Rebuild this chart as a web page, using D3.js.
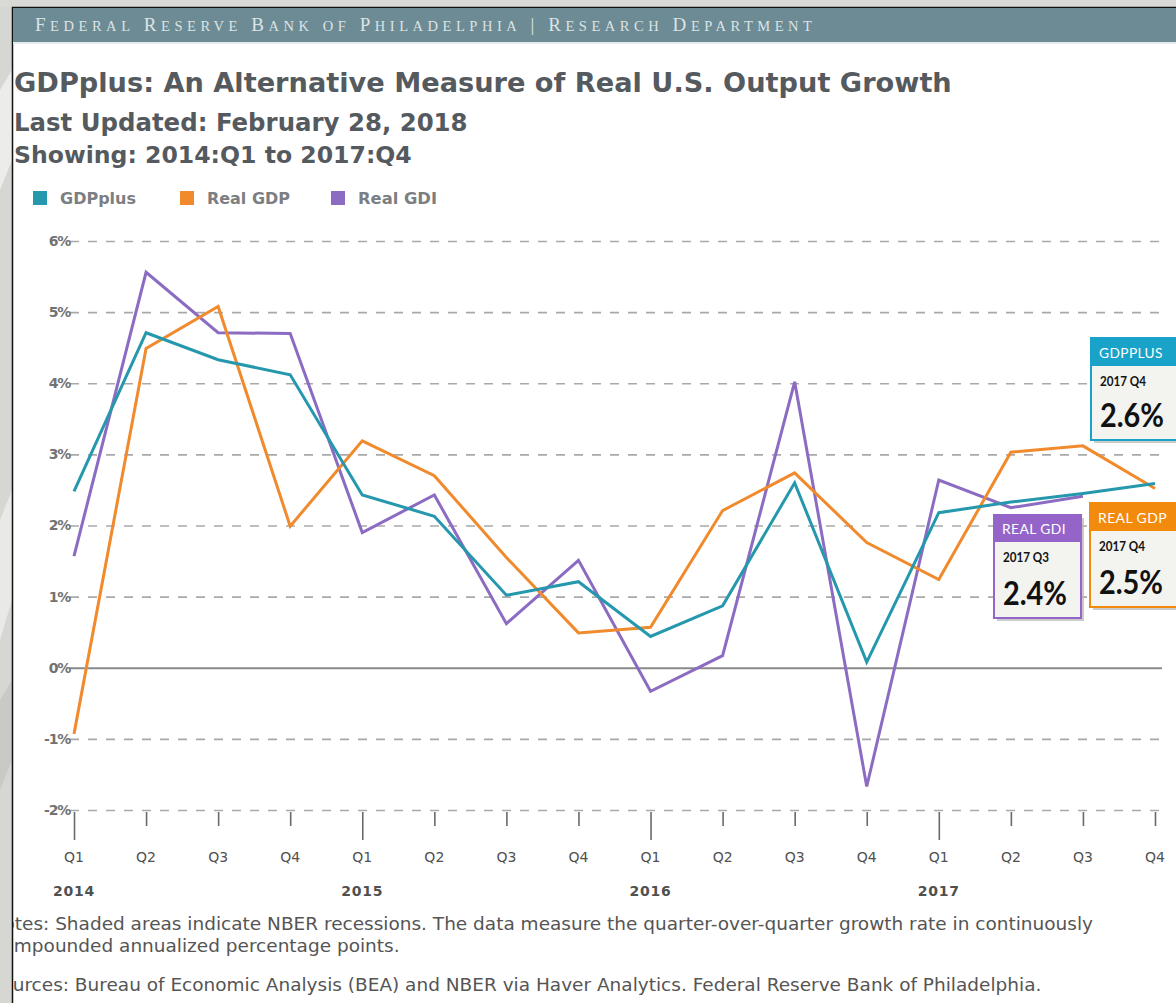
<!DOCTYPE html>
<html>
<head>
<meta charset="utf-8">
<script src="https://cdnjs.cloudflare.com/ajax/libs/d3/7.8.5/d3.min.js"></script>
<style>
  body { margin: 0; background: #fff; }
  svg { display: block; }
</style>
</head>
<body>
<script>
// values, quarterly growth, annualized %
const quarters = ["Q1", "Q2", "Q3", "Q4"]
const years = ["2014", "2015", "2016", "2017"]
const gdpplus = [2.48, 4.71, 4.33, 4.12, 2.43, 2.13, 1.02, 1.21, 0.44, 0.87, 2.60, 0.08, 2.18, 2.33, 2.45, 2.59]
const realGDP = [-0.93, 4.49, 5.08, 1.99, 3.19, 2.70, 1.55, 0.49, 0.57, 2.21, 2.74, 1.76, 1.24, 3.03, 3.12, 2.52]
const realGDI = [1.57, 5.56, 4.71, 4.70, 1.90, 2.43, 0.62, 1.51, -0.33, 0.17, 4.02, -1.67, 2.64, 2.25, 2.41, null]
const yTicks = [-2, -1, 0, 1, 2, 3, 4, 5, 6]
const seriesNames = ["GDPplus", "Real GDP", "Real GDI"]

const colors = {gdpplus: "#2598ad", gdp: "#f08a2c", gdi: "#8b6cc2"}

const W = 1176, H = 1003

const svg = d3.select("body").append("svg")
    .attr("width", W)
    .attr("height", H)

// scale text so it covers a given width
function fit(sel, w) {
    const l = sel.node().getComputedTextLength()
    sel.attr("font-size", parseFloat(sel.attr("font-size")) * w / l)
    return sel
}

// grey frame on the left and top
svg.append("rect").attr("width", W).attr("height", H).attr("fill", "#fff")
svg.append("rect").attr("x", 0).attr("y", 0).attr("width", 12).attr("height", H).attr("fill", "#d6d6d3")
svg.append("rect").attr("x", 0).attr("y", 0).attr("width", W).attr("height", 7).attr("fill", "#d9d9d6")
svg.append("path").attr("d", "M0,90 L12,70 L12,160 L0,190 Z").attr("fill", "#ececea")
svg.append("path").attr("d", "M0,520 L12,490 L12,600 L0,640 Z").attr("fill", "#e9e9e7")
svg.append("path").attr("d", "M0,700 L12,680 L12,760 L0,790 Z").attr("fill", "#c9c9c6")
svg.append("line").attr("x1", 12.5).attr("x2", 12.5).attr("y1", 7).attr("y2", H)
    .attr("stroke", "#111").attr("stroke-width", 1.5)
svg.append("line").attr("x1", 12).attr("x2", W).attr("y1", 7.5).attr("y2", 7.5)
    .attr("stroke", "#111").attr("stroke-width", 1.5)

// header bar, small caps built from tspans
svg.append("rect").attr("x", 13).attr("y", 8).attr("width", W - 13).attr("height", 34).attr("fill", "#6d8b94")
svg.append("rect").attr("x", 13).attr("y", 42).attr("width", W - 13).attr("height", 2).attr("fill", "#e6ecee")
const headText = "Federal Reserve Bank of Philadelphia | Research Department"
const runs = []
headText.split("").forEach(function(c) {
    const small = c !== c.toUpperCase()
    if (runs.length && runs[runs.length - 1].small === small) runs[runs.length - 1].t += c
    else runs.push({t: c, small: small})
})
const head = svg.append("text")
    .attr("x", 35).attr("y", 31)
    .attr("font-family", "Liberation Serif")
    .attr("font-size", 19)
    .attr("fill", "#dce3e5")
head.selectAll("tspan")
    .data(runs).enter()
    .append("tspan")
    .attr("font-size", function(d) { return d.small ? 14.5 : 19 })
    .text(function(d) { return d.t.toUpperCase() })
{
    const l = head.node().getComputedTextLength()
    head.attr("letter-spacing", Math.max(0, (777 - l) / (headText.length - 1)))
}

// titles
fit(svg.append("text").attr("x", 14).attr("y", 92)
    .attr("font-family", "DejaVu Sans").attr("font-weight", "bold")
    .attr("font-size", 25).attr("fill", "#555a5e")
    .text("GDPplus: An Alternative Measure of Real U.S. Output Growth"), 938)
fit(svg.append("text").attr("x", 14).attr("y", 131)
    .attr("font-family", "DejaVu Sans").attr("font-weight", "bold")
    .attr("font-size", 21).attr("fill", "#555a5e")
    .text("Last Updated: February 28, 2018"), 454)
fit(svg.append("text").attr("x", 14).attr("y", 163)
    .attr("font-family", "DejaVu Sans").attr("font-weight", "bold")
    .attr("font-size", 20).attr("fill", "#555a5e")
    .text("Showing: 2014:Q1 to 2017:Q4"), 398)

// legend
const legendX = [33, 180, 331]
const legendW = [76, 83, 79]
const legendC = [colors.gdpplus, colors.gdp, colors.gdi]
seriesNames.forEach(function(name, i) {
    svg.append("rect").attr("x", legendX[i]).attr("y", 191).attr("width", 14).attr("height", 14)
        .attr("fill", legendC[i])
    fit(svg.append("text").attr("x", legendX[i] + 27).attr("y", 204)
        .attr("font-family", "DejaVu Sans").attr("font-weight", "bold")
        .attr("font-size", 15).attr("fill", "#7b7e82")
        .text(name), legendW[i])
})

// scales
const x = d3.scaleLinear().domain([0, 15]).range([74, 1155])
const y = d3.scaleLinear().domain([-2, 6]).range([810, 241])

// y grid and labels
const yAxis = d3.axisLeft(y)
    .tickValues(yTicks)
    .tickSize(-(1162 - 68))
    .tickPadding(-2)
    .tickFormat(function(d) { return d + "%" })
const gy = svg.append("g").attr("transform", "translate(68,0)").call(yAxis)
gy.select(".domain").remove()
gy.selectAll(".tick line")
    .attr("stroke", "#a9a9a9")
    .attr("stroke-width", 1.6)
    .attr("stroke-dasharray", function(d) { return d === 0 ? null : "9,9" })
    .attr("x1", 2)
gy.selectAll(".tick text")
    .attr("font-family", "DejaVu Sans").attr("font-weight", "bold")
    .attr("font-size", 14).attr("fill", "#727272")
    .attr("letter-spacing", -1.2)
gy.selectAll(".tick").filter(function(d) { return d === 0 }).select("line")
    .attr("stroke", "#8a8a8a").attr("stroke-width", 2.2)

// x axis: short ticks each quarter, long ticks at Q1
const idx = d3.range(16)
const gx = svg.append("g").attr("transform", "translate(0,812)")
gx.call(d3.axisBottom(x).tickValues(idx.filter(function(i) { return i % 4 }))
    .tickSize(14).tickFormat(""))
gx.call(function(g) {
    g.append("g").call(d3.axisBottom(x).tickValues(idx.filter(function(i) { return i % 4 === 0 }))
        .tickSize(28).tickFormat(""))
})
gx.selectAll(".domain").remove()
gx.selectAll(".tick line").attr("stroke", "#6a6a6a").attr("stroke-width", 1.6)

svg.append("g").selectAll("text")
    .data(idx).enter()
    .append("text")
    .attr("x", function(d) { return x(d) })
    .attr("y", 862)
    .attr("text-anchor", "middle")
    .attr("font-family", "DejaVu Sans")
    .attr("font-size", 14)
    .attr("fill", "#505050")
    .text(function(d) { return quarters[d % 4] })

svg.append("g").selectAll("text")
    .data(years).enter()
    .append("text")
    .attr("x", function(d, i) { return x(i * 4) })
    .attr("y", 896)
    .attr("text-anchor", "middle")
    .attr("font-family", "DejaVu Sans")
    .attr("font-weight", "bold")
    .attr("font-size", 14)
    .attr("letter-spacing", 0.8)
    .attr("fill", "#505050")
    .text(function(d) { return d })

// series lines
const line = d3.line()
    .defined(function(d) { return d != null })
    .x(function(d, i) { return x(i) })
    .y(function(d) { return y(d) })

const series = [
    {values: realGDI, color: colors.gdi},
    {values: realGDP, color: colors.gdp},
    {values: gdpplus, color: colors.gdpplus}
]
svg.append("g").selectAll("path")
    .data(series).enter()
    .append("path")
    .attr("d", function(d) { return line(d.values) })
    .attr("fill", "none")
    .attr("stroke", function(d) { return d.color })
    .attr("stroke-width", 3)
    .attr("stroke-linejoin", "miter")

// callout boxes
function callout(bx, by, bw, bh, head, color, title, titleW, period, value) {
    const g = svg.append("g")
    g.append("rect").attr("x", bx + 3).attr("y", by + 3).attr("width", bw).attr("height", bh)
        .attr("fill", "#b5b5b5").attr("opacity", 0.7)
    g.append("rect").attr("x", bx).attr("y", by).attr("width", bw).attr("height", bh)
        .attr("fill", "#f3f3ef").attr("stroke", color).attr("stroke-width", 2)
    g.append("rect").attr("x", bx).attr("y", by).attr("width", bw).attr("height", head)
        .attr("fill", color)
    fit(g.append("text").attr("x", bx + 8).attr("y", by + head - 8)
        .attr("font-family", "Lato").attr("font-size", 14).attr("fill", "#fff")
        .attr("letter-spacing", 0.4)
        .text(title), titleW)
    g.append("text").attr("x", bx + 9).attr("y", by + head + 20)
        .attr("font-family", "Lato").attr("font-weight", "bold")
        .attr("font-size", 13).attr("fill", "#111")
        .attr("textLength", 46).attr("lengthAdjust", "spacingAndGlyphs")
        .text(period)
    g.append("text").attr("x", bx + 9).attr("y", by + bh - 13)
        .attr("font-family", "Lato").attr("font-weight", "bold")
        .attr("font-size", 33).attr("fill", "#111")
        .attr("textLength", 64).attr("lengthAdjust", "spacingAndGlyphs")
        .text(value.toFixed(1) + "%")
}

callout(1091, 338, 100, 102, 28, "#1aa3c8", "GDPPLUS", 64, "2017 " + quarters[3], gdpplus[15])
callout(994, 515, 87, 103, 27, "#9564c8", "REAL GDI", 64, "2017 " + quarters[2], realGDI[14])
callout(1090, 503, 100, 104, 28, "#f28a0e", "REAL GDP", 69, "2017 " + quarters[3], realGDP[15])

// notes, clipped at the frame on the left as in the source
svg.append("clipPath").attr("id", "noteclip")
    .append("rect").attr("x", 13).attr("y", 900).attr("width", W).attr("height", 110)
const notes = svg.append("g").attr("clip-path", "url(#noteclip)")
const n1 = "Notes: Shaded areas indicate NBER recessions. The data measure the quarter-over-quarter growth rate in continuously"
const probe = notes.append("text").attr("font-family", "DejaVu Sans").attr("font-size", 14)
    .text(n1.slice(2))
const fs = 14 * 1079 / probe.node().getComputedTextLength()
probe.remove()
const full = notes.append("text").attr("font-family", "DejaVu Sans").attr("font-size", fs).text(n1)
const startX = 1093 - full.node().getComputedTextLength()
full.remove()
const noteLines = [n1, "Compounded annualized percentage points.", "Sources: Bureau of Economic Analysis (BEA) and NBER via Haver Analytics. Federal Reserve Bank of Philadelphia."]
const noteY = [930, 952, 991]
notes.selectAll("text")
    .data(noteLines).enter()
    .append("text")
    .attr("x", startX)
    .attr("y", function(d, i) { return noteY[i] })
    .attr("font-family", "DejaVu Sans")
    .attr("font-size", fs)
    .attr("fill", "#555")
    .text(function(d) { return d })
</script>
</body>
</html>
